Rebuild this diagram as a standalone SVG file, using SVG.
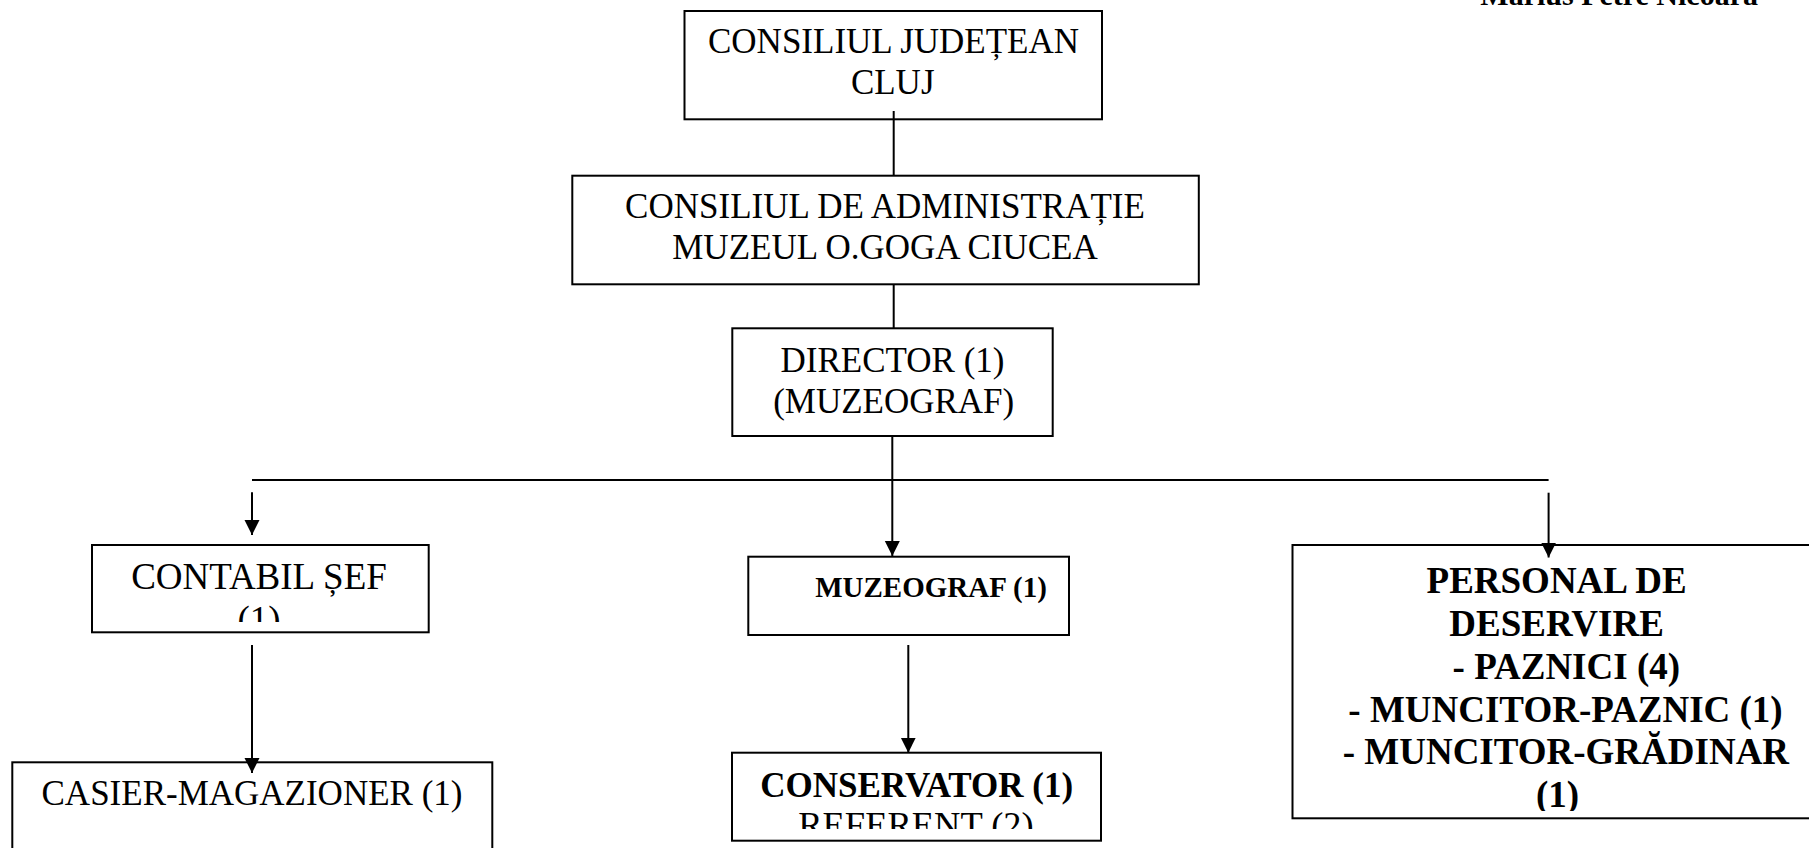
<svg xmlns="http://www.w3.org/2000/svg" width="1809" height="848" viewBox="0 0 1809 848">
<style>
.box{fill:#fff;stroke:#000;stroke-width:2}
.t{font-family:"Liberation Serif","Times New Roman",serif;font-size:35px;fill:#000;text-anchor:middle}
.b{font-weight:bold}
.p{font-size:37px}
.ln{stroke:#000;stroke-width:2;fill:none}
</style>
<defs>
<marker id="ah" markerUnits="userSpaceOnUse" markerWidth="16" markerHeight="16" refX="15" refY="7.5" orient="auto">
<path d="M0,0 L15,7.5 L0,15 Z" fill="#000"/>
</marker>
<clipPath id="c4"><rect x="92" y="545" width="337" height="77"/></clipPath>
<clipPath id="c7"><rect x="732" y="752" width="369" height="77"/></clipPath>
<clipPath id="c8"><rect x="1292" y="545" width="520" height="266"/></clipPath>
</defs>
<rect width="1809" height="848" fill="#fff"/>
<g id="author">
<text class="t b" x="1758" y="5" style="font-size:30px;text-anchor:end">Marius Petre Nicoară</text>
</g>
<g id="n1">
<rect class="box" x="684.5" y="11" width="417.5" height="108.3"/>
<text class="t" x="893.5" y="53.3">CONSILIUL JUDEȚEAN</text>
<text class="t" x="892.7" y="94">CLUJ</text>
</g>
<g id="n2">
<rect class="box" x="572.3" y="175.7" width="626.5" height="108.6"/>
<text class="t" x="885" y="218.3">CONSILIUL DE ADMINISTRAȚIE</text>
<text class="t" x="885" y="259">MUZEUL O.GOGA CIUCEA</text>
</g>
<g id="n3">
<rect class="box" x="732.3" y="328.3" width="320.4" height="107.7"/>
<text class="t" x="892.5" y="371.7">DIRECTOR (1)</text>
<text class="t" x="893.7" y="413.3">(MUZEOGRAF)</text>
</g>
<g id="n4">
<rect class="box" x="92" y="545" width="336.7" height="87.3"/>
<g clip-path="url(#c4)">
<text class="t p" x="259" y="589">CONTABIL ȘEF</text>
<text class="t p" x="259" y="632">(1)</text>
</g>
</g>
<g id="n5">
<rect class="box" x="12.3" y="762.3" width="480" height="100"/>
<text class="t" x="252" y="805">CASIER-MAGAZIONER (1)</text>
</g>
<g id="n6">
<rect class="box" x="748.3" y="556.7" width="320.7" height="78.3"/>
<text class="t b" x="931" y="596.7" style="font-size:29px">MUZEOGRAF (1)</text>
</g>
<g id="n7">
<rect class="box" x="732" y="752.7" width="369" height="88"/>
<g clip-path="url(#c7)">
<text class="t b" x="916.7" y="796.7">CONSERVATOR (1)</text>
<text class="t" x="916" y="836.5" style="font-size:36.5px">REFERENT (2)</text>
</g>
</g>
<g id="n8">
<rect class="box" x="1292.5" y="545" width="530" height="273.3"/>
<g clip-path="url(#c8)">
<text class="t b p" x="1556.6" y="593.3">PERSONAL DE</text>
<text class="t b p" x="1556.6" y="636.1">DESERVIRE</text>
<text class="t b p" x="1566.3" y="679.3">- PAZNICI (4)</text>
<text class="t b p" x="1565.5" y="721.5">- MUNCITOR-PAZNIC (1)</text>
<text class="t b p" x="1565.9" y="763.6">- MUNCITOR-GRĂDINAR</text>
<text class="t b p" x="1557.5" y="807">(1)</text>
</g>
</g>
<g id="connectors">
<line class="ln" x1="893.7" y1="111" x2="893.7" y2="175.7"/>
<line class="ln" x1="893.7" y1="284.3" x2="893.7" y2="328.3"/>
<line class="ln" x1="892.3" y1="436" x2="892.3" y2="480"/>
<line class="ln" x1="252" y1="480" x2="1548.6" y2="480"/>
<line class="ln" x1="252" y1="492.3" x2="252" y2="535" marker-end="url(#ah)"/>
<line class="ln" x1="892.3" y1="480" x2="892.3" y2="556" marker-end="url(#ah)"/>
<line class="ln" x1="1548.6" y1="492.7" x2="1548.6" y2="557.5" marker-end="url(#ah)"/>
<line class="ln" x1="252" y1="645" x2="252" y2="773" marker-end="url(#ah)"/>
<line class="ln" x1="908.3" y1="645" x2="908.3" y2="752.7" marker-end="url(#ah)"/>
</g>
</svg>
